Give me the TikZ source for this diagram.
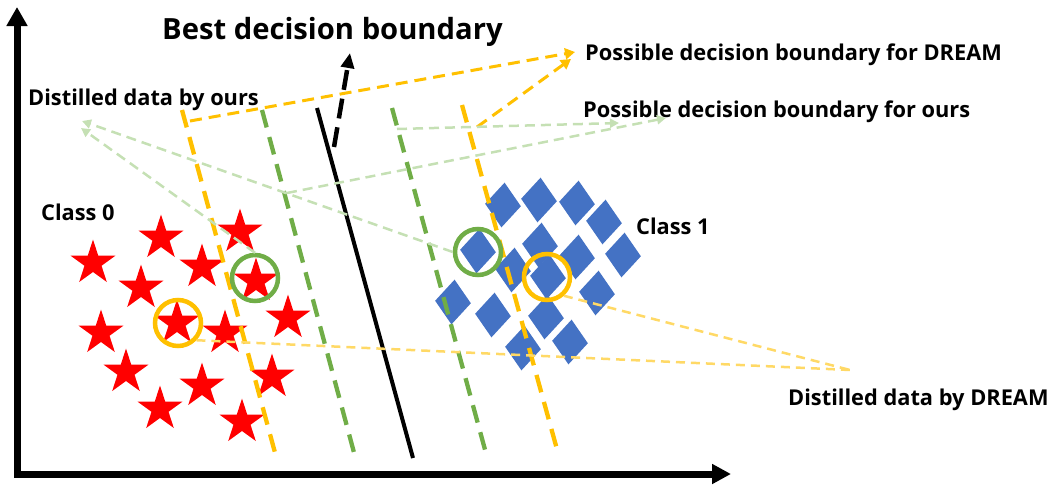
\documentclass[tikz,border=0pt]{standalone}
\usepackage{fontspec}
\setmainfont{Open Sans}
\usetikzlibrary{arrows.meta,shapes.geometric}
\definecolor{gold}{HTML}{FFC000}
\definecolor{paleGold}{HTML}{FFD966}
\definecolor{leaf}{HTML}{70AD47}
\definecolor{paleLeaf}{HTML}{C5E0B4}
\definecolor{steel}{HTML}{4472C4}

\begin{document}
\begin{tikzpicture}[x=1pt,y=-1pt,
  lbl/.style={font=\fontsize{21.8}{26}\selectfont\bfseries, inner sep=0pt, anchor=base west},
  ttl/.style={font=\fontsize{29.2}{34}\selectfont\bfseries, inner sep=0pt, anchor=base west},
  redstar/.style={star, star points=5, star point ratio=2.618, minimum size=47pt, inner sep=0pt, fill=red},
  bluegem/.style={diamond, minimum width=36pt, minimum height=45pt, inner sep=0pt, fill=steel, rotate=-4},
  ring/.style={circle, draw=#1, line width=4.5pt, minimum size=46pt, inner sep=0pt},
  axis/.style={line width=7pt, line join=miter,
    {Triangle[length=19pt,width=20pt]}-{Triangle[length=19pt,width=19pt]}},
  bound/.style={draw=#1, line width=4.3pt, dash pattern=on 18pt off 10pt},
  best/.style={draw=black, line width=4pt},
  bestarrow/.style={draw=black, line width=4.5pt, dash pattern=on 20pt off 9pt,
    -{Triangle[length=15pt,width=13pt]}},
  goldpointer/.style={draw=gold, line width=3pt, dash pattern=on 12pt off 7pt,
    -{Triangle[length=10pt,width=11pt]}},
  leafpointer/.style={draw=paleLeaf, line width=2.5pt, dash pattern=on 10pt off 6pt,
    -{Triangle[length=9pt,width=9pt]}},
  goldtrace/.style={draw=paleGold, line width=2.5pt, dash pattern=on 9pt off 6pt},
]
\useasboundingbox (0,0) rectangle (1056,485);

% ---- class 0 samples
\foreach \i/\p in {1/{(93,263)},2/{(161,238)},3/{(240,232)},4/{(202,267)},5/{(141,288)},
                   6/{(256,281)},7/{(288,318)},8/{(101,333)},9/{(177,323)},10/{(225,333)},
                   11/{(126,372)},12/{(202,386)},13/{(272,377)},14/{(160,409)},15/{(242,422)}}
  \node[redstar] (s\i) at \p {};

% ---- class 1 samples
\foreach \i/\p in {1/{(503,205)},2/{(539,200)},3/{(577,203)},4/{(604,222)},
                   5/{(540,245)},6/{(478,251)},7/{(577,257)},8/{(623,255)},
                   9/{(513,270)},10/{(548,277)},11/{(453,302)},12/{(493,315)},
                   13/{(597,293)},14/{(546,317)},15/{(523,348)},16/{(570,342)}}
  \node[bluegem] (d\i) at \p {};

% ---- axes
\coordinate (ytip) at (17,7);
\coordinate (origin) at (17,474);
\coordinate (xtip) at (731,474);
\draw[axis] (ytip) -- (origin) -- (xtip);

% ---- decision boundaries
\coordinate (yA1) at (182,110); \coordinate (yA2) at (277,460);
\coordinate (gA1) at (262,110); \coordinate (gA2) at (356,460);
\coordinate (gB1) at (392,108); \coordinate (gB2) at (487,457);
\coordinate (yB1) at (462,105); \coordinate (yB2) at (558,453);
\coordinate (bk1) at (317,108); \coordinate (bk2) at (413,458);
\draw[bound=gold] (yA1) -- (yA2);
\draw[bound=leaf] (gA1) -- (gA2);
\draw[bound=leaf] (gB1) -- (gB2);
\draw[bound=gold] (yB1) -- (yB2);
\draw[best] (bk1) -- (bk2);

% ---- highlighted samples
\node[ring=leaf] (gs) at (255,278) {};
\node[ring=leaf] (gd) at (478,252) {};
\node[ring=gold] (ys) at (178,323) {};
\node[ring=gold] (yd) at (547,277) {};

% ---- labels
\node[ttl] (title) at (162,39.5) {Best decision boundary};
\node[lbl] (bdream) at (585,60) {Possible decision boundary for DREAM};
\node[lbl] (bours) at (583,117) {Possible decision boundary for ours};
\node[lbl] (dours) at (28,105) {Distilled data by ours};
\node[lbl] (ddream) at (788,405) {Distilled data by DREAM};
\node[lbl] (c0) at (41,220) {Class 0};
\node[lbl] (c1) at (636,234) {Class 1};

% ---- pointers
\coordinate (bestfoot) at (334,147);
\coordinate (besthead) at (350,53);
\draw[bestarrow] (bestfoot) -- (besthead);

\coordinate (yAtop) at (190,121);
\coordinate (yBtop) at (477,127);
\coordinate (bdreamTipA) at (575,52);
\coordinate (bdreamTipB) at (571,59);
\draw[goldpointer] (yAtop) -- (bdreamTipA);
\draw[goldpointer] (yBtop) -- (bdreamTipB);

\coordinate (gBtop) at (397,129);
\coordinate (gAmid) at (287,193);
\coordinate (boursTipA) at (619,123);
\coordinate (boursTipB) at (666,118);
\draw[leafpointer] (gBtop) -- (boursTipA);
\draw[leafpointer] (gAmid) -- (boursTipB);

\coordinate (doursTipA) at (82,121);
\coordinate (doursTipB) at (81,128);
\draw[leafpointer] (gd.west) -- (doursTipA);
\draw[leafpointer] (gs.north) -- (doursTipB);

\coordinate (ddreamMeet) at (850,370);
\draw[goldtrace] (ys.-43) -- (ddreamMeet);
\draw[goldtrace] (yd.-48) -- (ddreamMeet);
\end{tikzpicture}
\end{document}
